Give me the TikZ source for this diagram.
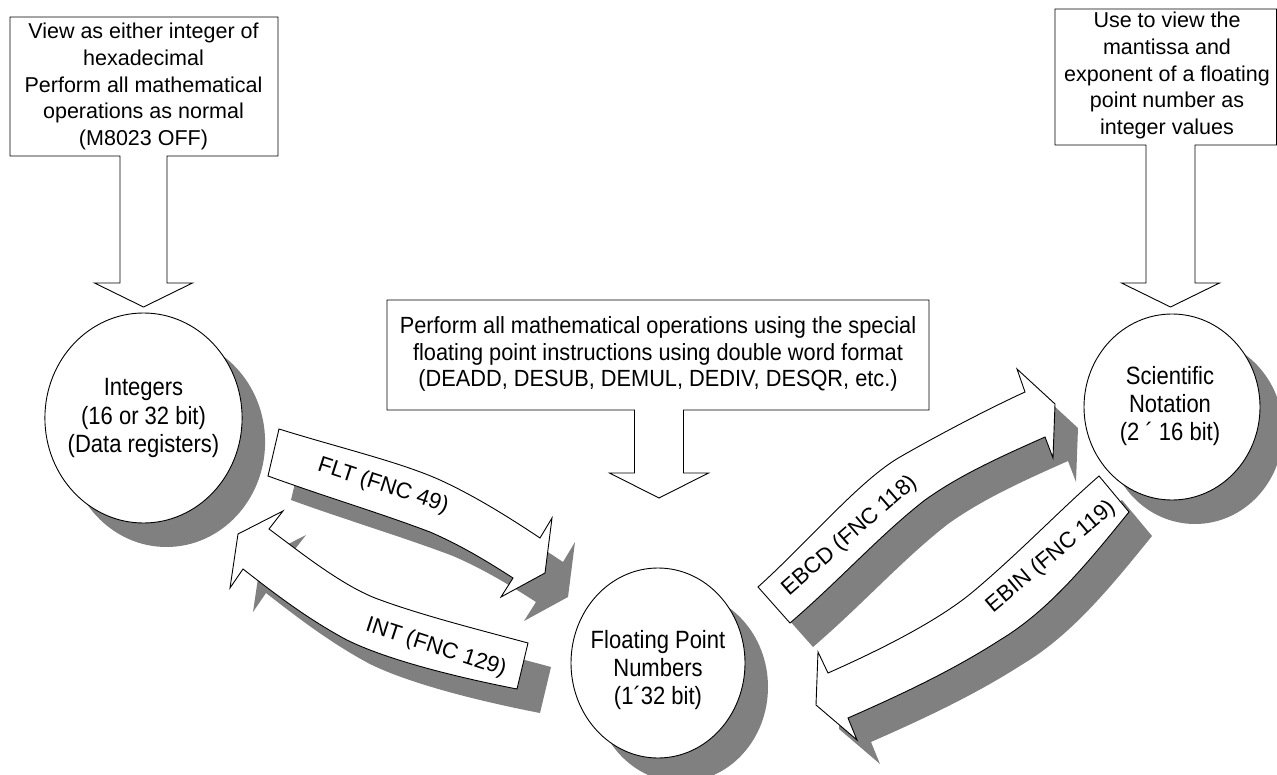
\documentclass[tikz,border=0pt]{standalone}
\usepackage{fontspec}
\setmainfont{Liberation Sans}
\newfontfamily\condfont[FakeStretch=0.88]{Liberation Sans}
\newfontfamily\midfont[FakeStretch=0.93]{Liberation Sans}
\usetikzlibrary{shapes.geometric,calc}
\definecolor{shadowgray}{RGB}{128,128,128}
\tikzset{
  outline/.style={draw=black,line width=0.9pt,fill=white,line join=miter},
  shadowfill/.style={fill=shadowgray,draw=none},
  boxtext/.style={align=center,inner sep=0pt,font=\fontsize{21.5}{26.6}\selectfont},
  midtext/.style={align=center,inner sep=0pt,font=\midfont\fontsize{23.4}{26.6}\selectfont},
  circtext/.style={align=center,inner sep=0pt,font=\condfont\fontsize{25}{28.2}\selectfont},
  lbl/.style={inner sep=0pt,font=\fontsize{22.3}{26}\selectfont},
  fltshape/.pic={\path[pic actions] (279,429) .. controls (340,448) and (400,462) .. (440,480)
      .. controls (475,496) and (510,518) .. (540,538) -- (552,518) -- (545,573) -- (501,597) -- (513,578)
      .. controls (485,560) and (460,545) .. (430,532) .. controls (380,513) and (320,495) .. (268,476) -- cycle;},
  intshape/.pic={\path[pic actions] (528,643) .. controls (480,630) and (420,615) .. (375,598)
      .. controls (340,584) and (300,552) .. (269,529) -- (283,511) -- (238,534) -- (230,588) -- (243,569)
      .. controls (280,598) and (310,620) .. (345,639) .. controls (378,656) and (440,674) .. (517,689) -- cycle;},
  ebcdshape/.pic={\path[pic actions] (758,587) .. controls (810,540) and (860,480) .. (900,457)
      .. controls (940,434) and (990,408) .. (1025,392) -- (1017,369) -- (1055,404) -- (1053,458) -- (1045,437)
      .. controls (1000,457) and (960,475) .. (925,500) .. controls (880,535) and (840,580) .. (790,623) -- cycle;},
  ebinshape/.pic={\path[pic actions] (1099,476) .. controls (1060,510) and (1020,552) .. (975,590)
      .. controls (940,620) and (880,650) .. (828,673) -- (818,652) -- (816,705) -- (857,740) -- (848,718)
      .. controls (900,695) and (950,672) .. (1000,640) .. controls (1050,610) and (1090,560) .. (1129,512) -- cycle;}
}
\begin{document}
\begin{tikzpicture}[x=1pt,y=-1pt]
\useasboundingbox (0,0) rectangle (1277,775);

% circle centres
\coordinate (intC) at (143.5,418);
\coordinate (fpC) at (658,663);
\coordinate (sciC) at (1172,407);

% shadows
\fill[shadowfill] ($(intC)+(23,24)$) ellipse [x radius=98.6pt, y radius=105pt];
\fill[shadowfill] ($(fpC)+(23,24)$) ellipse [x radius=87pt, y radius=95pt];
\fill[shadowfill] ($(sciC)+(23,24)$) ellipse [x radius=88pt, y radius=93pt];
\pic[shadowfill] at (23,24) {fltshape};
\pic[shadowfill] at (23,24) {intshape};
\pic[shadowfill] at (23,24) {ebcdshape};
\pic[shadowfill] at (23,24) {ebinshape};

% block arrows
\pic[outline] at (0,0) {fltshape};
\pic[outline] at (0,0) {intshape};
\pic[outline] at (0,0) {ebcdshape};
\pic[outline] at (0,0) {ebinshape};

% circles
\node[outline, ellipse, inner sep=0pt, minimum width=197.2pt, minimum height=210pt] (int) at (intC) {};
\node[outline, ellipse, inner sep=0pt, minimum width=174pt, minimum height=190pt] (fp) at (fpC) {};
\node[outline, ellipse, inner sep=0pt, minimum width=176pt, minimum height=186pt] (sci) at (sciC) {};

\node[circtext] (intT) at (143.5,418) {Integers\\(16 or 32 bit)\\(Data registers)};
\node[circtext] (fpT) at (658,670) {Floating Point\\Numbers\\(1´32 bit)};
\node[circtext] (sciT) at (1170,406) {Scientific\\Notation\\(2 ´ 16 bit)};

% arrow labels
\node[lbl, rotate=-18] (fltL) at (383,486) {FLT (FNC 49)};
\node[lbl, rotate=-18] (intL) at (436,648) {INT (FNC 129)};
\node[lbl, rotate=41] (ebcdL) at (850,536) {EBCD (FNC 118)};
\node[lbl, rotate=40] (ebinL) at (1051,557) {EBIN (FNC 119)};

% callouts
\draw[outline] (10,17) -- (278,17) -- (278,156) -- (167,156) -- (167,283) -- (192.5,283) -- (143.5,307)
  -- (94.5,283) -- (120,283) -- (120,156) -- (10,156) -- cycle;
\node[boxtext] (tlT) at (143.5,86.5) {View as either integer of\\hexadecimal\\Perform all mathematical\\operations as normal\\(M8023 OFF)};

\draw[outline] (1055,9) -- (1276.5,9) -- (1276.5,145) -- (1195,145) -- (1195,283) -- (1219.5,283) -- (1170.5,307)
  -- (1121.5,283) -- (1146,283) -- (1146,145) -- (1055,145) -- cycle;
\node[boxtext] (trT) at (1167,75.5) {Use to view the\\mantissa and\\exponent of a floating\\point number as\\integer values};

\draw[outline] (387,300) -- (929,300) -- (929,410) -- (683.5,410) -- (683.5,473) -- (708.5,473) -- (659,498)
  -- (609.5,473) -- (634.5,473) -- (634.5,410) -- (387,410) -- cycle;
\node[midtext] (midT) at (658,354) {Perform all mathematical operations using the special\\floating point instructions using double word format\\(DEADD, DESUB, DEMUL, DEDIV, DESQR, etc.)};
\end{tikzpicture}
\end{document}
